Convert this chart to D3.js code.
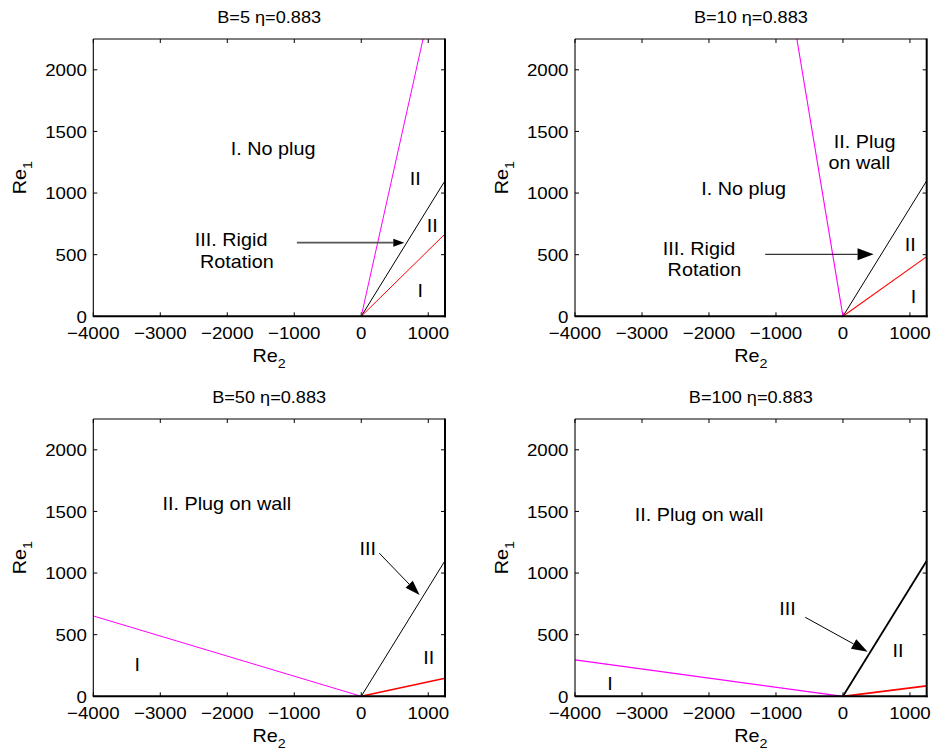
<!DOCTYPE html>
<html><head><meta charset="utf-8">
<script src="https://cdn.jsdelivr.net/npm/d3@7"></script>
<style>
body{margin:0;background:#fff;}
svg{display:block;font-family:"Liberation Sans",Arial,Helvetica,sans-serif;}
</style></head>
<body>
<svg id="chart" width="934" height="756"></svg>
<script>
// ---- data ----
const xDomain = [-4000, 1250];
const yDomain = [0, 2250];
const xTicks = [-4000, -3000, -2000, -1000, 0, 1000];
const yTicks = [0, 500, 1000, 1500, 2000];
const titles = ["B=5 η=0.883", "B=10 η=0.883", "B=50 η=0.883", "B=100 η=0.883"];
const magentaLines = [
  [[0, 0], [922, 2250]],
  [[0, 0], [-688, 2250]],
  [[-4000, 652], [0, 0]],
  [[-4000, 295], [0, 0]]
];
const blackLines = [
  [[0, 0], [1250, 1100]],
  [[0, 0], [1250, 1100]],
  [[0, 0], [1250, 1100]],
  [[0, 0], [1250, 1100]]
];
const redLines = [
  [[0, 0], [1250, 668]],
  [[0, 0], [1250, 484]],
  [[0, 0], [1250, 146]],
  [[0, 0], [1250, 84]]
];
const arrows = [ // from, to
  [[-961, 597], [643, 597]],
  [[-1161, 503], [457, 503]],
  [[269, 1161], [871, 822]],
  [[-563, 641], [368, 362]]
];
const labels = [
  [["I. No plug", -1315, 1358], ["II", 807, 1120], ["II", 1058, 733], ["I", 882, 208],
   ["III. Rigid", -1943, 620], ["Rotation", -1858, 443]],
  [["II. Plug", 323, 1417], ["on wall", 244, 1250], ["I. No plug", -1483, 1039],
   ["II", 1004, 579], ["I", 1052, 159], ["III. Rigid", -2148, 552], ["Rotation", -2068, 376]],
  [["II. Plug on wall", -2007, 1566], ["III", 95, 1201], ["II", 1006, 316], ["I", -3343, 254]],
  [["II. Plug on wall", -2148, 1472], ["III", -828, 711], ["II", 822, 370], ["I", -3478, 100]]
];

// ---- styles ----
const lineWidths = [ // magenta, black, red
  [1, 1, 1], [1.1, 1, 1.1], [1, 1, 1.5], [1.3, 1.8, 1.8]
];
const arrowStyles = [ // headLength, headWidth, colour, shaft width
  [11, 8, "#555", 1.8], [16, 12, "#000", 1], [15, 10, "#000", 1], [16, 11, "#000", 1]
];
const panelLeft = [93.3, 575];
const panelTop = [39, 419];
const pw = 351.7, ph = 277.3;
const SX = 1.1; // horizontal stretch of the reference text

const svg = d3.select("#chart");

function txt(g, x, y, s, size, anchor, rotate) {
  const t = g.append("text")
    .attr("transform", `translate(${x},${y})` + (rotate ? ` rotate(${rotate})` : "") + ` scale(${SX},1)`)
    .attr("font-size", size)
    .attr("text-anchor", anchor || "middle")
    .attr("fill", "#000");
  if (s !== null) t.text(s);
  return t;
}

titles.forEach((title, i) => {
  const col = i % 2, row = Math.floor(i / 2);
  const x0 = panelLeft[col], y0 = panelTop[row];
  const x = d3.scaleLinear().domain(xDomain).range([x0, x0 + pw]);
  const y = d3.scaleLinear().domain(yDomain).range([y0 + ph, y0]);
  const g = svg.append("g");
  const line = d3.line().x(d => x(d[0])).y(d => y(d[1]));
  const fmt = d3.format("d");

  // ticks (inward, mirrored)
  xTicks.forEach(v => {
    g.append("line").attr("x1", x(v)).attr("x2", x(v)).attr("y1", y0 + ph).attr("y2", y0 + ph - 4)
      .attr("stroke", "#000").attr("stroke-width", 1);
    g.append("line").attr("x1", x(v)).attr("x2", x(v)).attr("y1", y0).attr("y2", y0 + 4)
      .attr("stroke", "#000").attr("stroke-width", 1);
    txt(g, x(v), y0 + ph + 22.7, fmt(v).replace("-", "\u2212"), 17, "middle");
  });
  yTicks.forEach(v => {
    g.append("line").attr("x1", x0).attr("x2", x0 + 4).attr("y1", y(v)).attr("y2", y(v))
      .attr("stroke", "#000").attr("stroke-width", 1);
    g.append("line").attr("x1", x0 + pw).attr("x2", x0 + pw - 4).attr("y1", y(v)).attr("y2", y(v))
      .attr("stroke", "#000").attr("stroke-width", 1);
    txt(g, x0 - 6.5, y(v) + (v === 0 ? 6.5 : 6.2), fmt(v), 17, "end");
  });

  // data lines
  const lw = lineWidths[i];
  g.append("path").attr("d", line(magentaLines[i])).attr("stroke", "#ff00ff").attr("fill", "none").attr("stroke-width", lw[0]);
  g.append("path").attr("d", line(blackLines[i])).attr("stroke", "#000").attr("fill", "none").attr("stroke-width", lw[1]);
  g.append("path").attr("d", line(redLines[i])).attr("stroke", "#ff0000").attr("fill", "none").attr("stroke-width", lw[2]);

  // box: thin top/left, heavier right/bottom (as in reference)
  g.append("line").attr("x1", x0).attr("x2", x0 + pw).attr("y1", y0).attr("y2", y0)
    .attr("stroke", "#000").attr("stroke-width", 1.1);
  g.append("line").attr("x1", x0).attr("x2", x0).attr("y1", y0).attr("y2", y0 + ph)
    .attr("stroke", "#000").attr("stroke-width", 1.1);
  g.append("line").attr("x1", x0 + pw).attr("x2", x0 + pw).attr("y1", y0 - 0.5).attr("y2", y0 + ph + 1)
    .attr("stroke", "#000").attr("stroke-width", 2);
  g.append("line").attr("x1", x0 - 0.5).attr("x2", x0 + pw + 1).attr("y1", y(0)).attr("y2", y(0))
    .attr("stroke", "#000").attr("stroke-width", 2);

  // arrow
  const [a, b] = arrows[i];
  const [hl, hw, ac, aw] = arrowStyles[i];
  const ax1 = x(a[0]), ay1 = y(a[1]), ax2 = x(b[0]), ay2 = y(b[1]);
  const ang = Math.atan2(ay2 - ay1, ax2 - ax1);
  const bx = ax2 - hl * Math.cos(ang), by = ay2 - hl * Math.sin(ang);
  g.append("line").attr("x1", ax1).attr("y1", ay1).attr("x2", bx).attr("y2", by)
    .attr("stroke", ac).attr("stroke-width", aw);
  const px = -Math.sin(ang) * hw / 2, py = Math.cos(ang) * hw / 2;
  g.append("path").attr("d", `M${ax2},${ay2}L${bx + px},${by + py}L${bx - px},${by - py}Z`).attr("fill", "#000");

  // region labels
  labels[i].forEach(([s, lx, ly]) => txt(g, x(lx), y(ly) + 6.5, s, 18, "middle"));

  // title
  txt(g, x0 + pw / 2, y0 - 16, title, 16.5, "middle");

  // axis labels
  const xl = txt(g, x0 + pw / 2, y0 + ph + 46, null, 18, "middle");
  xl.append("tspan").text("Re");
  xl.append("tspan").attr("font-size", 13).attr("dy", 6).text("2");
  const yl = txt(g, x0 - 67.5, y0 + ph / 2, null, 18, "middle", -90);
  yl.append("tspan").text("Re");
  yl.append("tspan").attr("font-size", 13).attr("dy", 6).text("1");
});
</script>
</body></html>
